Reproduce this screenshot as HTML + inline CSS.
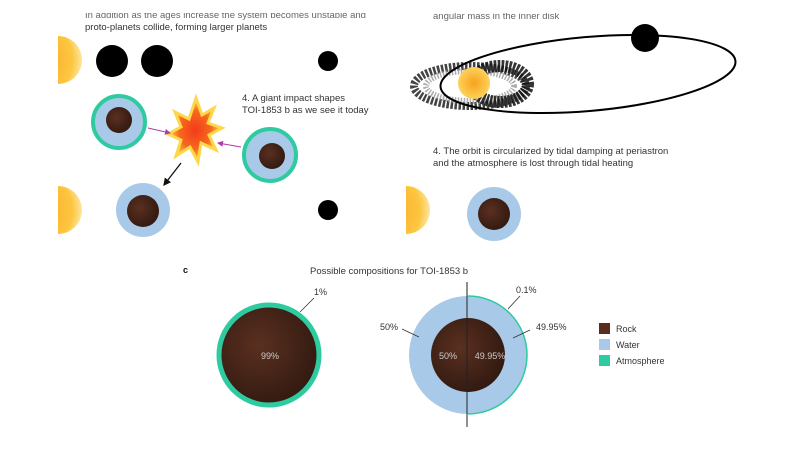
<!DOCTYPE html>
<html><head><meta charset="utf-8"><style>
html,body{margin:0;padding:0;background:#fff;}
svg{display:block;font-family:"Liberation Sans",sans-serif;}
</style></head><body>
<svg width="800" height="450" viewBox="0 0 800 450">
<defs>
<radialGradient id="sun" cx="0" cy="0.5" r="1"><stop offset="0" stop-color="#f7a21c"/><stop offset="0.8" stop-color="#fdc640"/><stop offset="1" stop-color="#fde6a0"/></radialGradient>
<radialGradient id="sun2" cx="0.5" cy="0.5" r="0.5"><stop offset="0" stop-color="#f7a21c"/><stop offset="1" stop-color="#fdd25a"/></radialGradient>
<radialGradient id="rock" cx="0.4" cy="0.4" r="0.7"><stop offset="0" stop-color="#5a3020"/><stop offset="1" stop-color="#2e170f"/></radialGradient>
<radialGradient id="boom" cx="0.5" cy="0.5" r="0.5"><stop offset="0" stop-color="#f23a1a"/><stop offset="0.6" stop-color="#f76a1e"/><stop offset="1" stop-color="#fcd84a"/></radialGradient>
<clipPath id="cl"><rect x="58" y="0" width="742" height="450"/></clipPath>
<clipPath id="cl2"><rect x="406" y="150" width="100" height="100"/></clipPath>
<clipPath id="top"><rect x="0" y="13" width="800" height="20"/></clipPath>
<marker id="mag" markerWidth="6" markerHeight="6" refX="5" refY="3" orient="auto"><path d="M0,0L6,3L0,6z" fill="#b23aa6"/></marker>
<marker id="blk" markerWidth="6" markerHeight="6" refX="5" refY="3" orient="auto"><path d="M0,0L6,3L0,6z" fill="#111"/></marker>
</defs>
<g font-size="9.5" fill="#333">
<g clip-path="url(#top)">
<text x="85" y="18" fill="#666">In addition as the ages increase the system becomes unstable and</text>
<text x="433" y="19" fill="#666">angular mass in the inner disk</text>
</g>
<text x="85" y="30">proto-planets collide, forming larger planets</text>
<text x="242" y="101">4. A giant impact shapes</text>
<text x="242" y="113">TOI-1853 b as we see it today</text>
<text x="433" y="154">4. The orbit is circularized by tidal damping at periastron</text>
<text x="433" y="166">and the atmosphere is lost through tidal heating</text>
</g>
<g clip-path="url(#cl)">
<circle cx="58" cy="60" r="24" fill="url(#sun)"/>
<circle cx="58" cy="210" r="24" fill="url(#sun)"/>
</g>
<circle cx="406" cy="210" r="24" fill="url(#sun)" clip-path="url(#cl2)"/>
<circle cx="112" cy="61" r="16" fill="#000"/>
<circle cx="157" cy="61" r="16" fill="#000"/>
<circle cx="328" cy="61" r="10" fill="#000"/>
<circle cx="328" cy="210" r="10" fill="#000"/>
<circle cx="119" cy="122" r="26" fill="#a9c9e8" stroke="#2ecaa0" stroke-width="4"/>
<circle cx="119" cy="120" r="13" fill="url(#rock)"/>
<circle cx="270" cy="155" r="26" fill="#a9c9e8" stroke="#2ecaa0" stroke-width="4"/>
<circle cx="272" cy="156" r="13" fill="url(#rock)"/>
<circle cx="143" cy="210" r="27" fill="#a9c9e8"/>
<circle cx="143" cy="211" r="16" fill="url(#rock)"/>
<circle cx="494" cy="214" r="27" fill="#a9c9e8"/>
<circle cx="494" cy="214" r="16" fill="url(#rock)"/>
<path d="M196,98 L202,115 L214,108 L208,123 L222,128 L209,135 L216,150 L201,143 L198,162 L190,147 L176,156 L181,140 L168,134 L181,127 L175,112 L189,119 Z" fill="url(#boom)" stroke="#fcd84a" stroke-width="3"/>
<line x1="148" y1="128" x2="170" y2="133" stroke="#b23aa6" stroke-width="1" marker-end="url(#mag)"/>
<line x1="241" y1="147" x2="218" y2="143" stroke="#b23aa6" stroke-width="1" marker-end="url(#mag)"/>
<line x1="181" y1="163" x2="164" y2="185" stroke="#111" stroke-width="1.3" marker-end="url(#blk)"/>
<g>
<ellipse cx="470" cy="86" rx="56" ry="20" fill="none" stroke="#222" stroke-width="8" stroke-dasharray="2.5 1.5" opacity="0.85"/>
<ellipse cx="470" cy="86" rx="44" ry="15" fill="none" stroke="#999" stroke-width="6" stroke-dasharray="1.5 1.5" opacity="0.8"/>
<ellipse cx="500" cy="84" rx="28" ry="18" fill="none" stroke="#111" stroke-width="12" stroke-dasharray="2.5 1.2" opacity="0.85"/>
</g>
<circle cx="474" cy="83" r="16" fill="url(#sun2)"/>
<ellipse cx="588" cy="74" rx="148" ry="37" transform="rotate(-5 588 74)" fill="none" stroke="#000" stroke-width="2"/>
<circle cx="645" cy="38" r="14" fill="#000"/>
<text x="183" y="273" font-size="9" font-weight="bold" fill="#111">c</text>
<text x="310" y="274" font-size="9.5" fill="#333">Possible compositions for TOI-1853 b</text>
<circle cx="269" cy="355" r="50" fill="url(#rock)" stroke="#2ecaa0" stroke-width="5"/>
<text x="270" y="359" font-size="9" fill="#ccc" text-anchor="middle">99%</text>
<line x1="300" y1="312" x2="314" y2="298" stroke="#333" stroke-width="0.8"/>
<text x="314" y="295" font-size="9" fill="#333">1%</text>
<circle cx="468" cy="355" r="59" fill="#a9c9e8"/>
<path d="M468,296 A59,59 0 0 1 468,414" fill="none" stroke="#2ecaa0" stroke-width="1.5"/>
<circle cx="468" cy="355" r="37" fill="url(#rock)"/>
<line x1="467" y1="282" x2="467" y2="427" stroke="#222" stroke-width="1"/>
<text x="448" y="359" font-size="9" fill="#ccc" text-anchor="middle">50%</text>
<text x="490" y="359" font-size="9" fill="#ccc" text-anchor="middle">49.95%</text>
<line x1="508" y1="309" x2="520" y2="296" stroke="#333" stroke-width="0.8"/>
<text x="516" y="293" font-size="9" fill="#333">0.1%</text>
<line x1="402" y1="329" x2="419" y2="337" stroke="#333" stroke-width="0.8"/>
<text x="380" y="330" font-size="9" fill="#333">50%</text>
<line x1="513" y1="338" x2="530" y2="330" stroke="#333" stroke-width="0.8"/>
<text x="536" y="330" font-size="9" fill="#333">49.95%</text>
<rect x="599" y="323" width="11" height="11" fill="#5a2c1e"/>
<rect x="599" y="339" width="11" height="11" fill="#a9c9e8"/>
<rect x="599" y="355" width="11" height="11" fill="#2ecaa0"/>
<g font-size="9" fill="#333">
<text x="616" y="332">Rock</text>
<text x="616" y="348">Water</text>
<text x="616" y="364">Atmosphere</text>
</g>
</svg>
</body></html>
